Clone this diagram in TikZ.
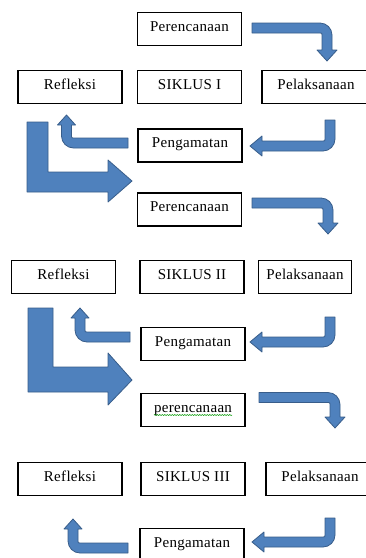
\documentclass[tikz,border=0pt]{standalone}
\usepackage{fontspec}
\setmainfont{Liberation Serif}[LetterSpace=2]
\usetikzlibrary{decorations.pathmorphing}
\definecolor{arrfill}{HTML}{4F81BD}
\definecolor{arrline}{HTML}{385D8A}
\tikzset{
  blk/.style={fill=arrfill, draw=arrline, line width=0.8pt, line join=round},
  box/.style={draw=black, fill=white, line width=1.8pt, rectangle, inner sep=0pt,
    minimum width=104pt, minimum height=33pt, text height=10pt, text depth=6pt,
    font=\fontsize{15}{18}\selectfont}
}
% right then down
\newcommand\arrRD[4]{%
\filldraw[blk] (#1,{#2-5}) -- ({#3-7},{#2-5}) .. controls ({#3-0.4},{#2-5}) and ({#3+5},{#2+0.4}) .. ({#3+5},{#2+7})
 -- ({#3+5},{#4-11}) -- ({#3+10},{#4-11}) -- (#3,#4) -- ({#3-10},{#4-11}) -- ({#3-5},{#4-11})
 -- ({#3-5},{#2+7}) .. controls ({#3-5},{#2+5}) .. ({#3-7},{#2+5}) -- (#1,{#2+5}) -- cycle;}
% down then left
\newcommand\arrDL[4]{%
\filldraw[blk] ({#1-5},#2) -- ({#1+5},#2) -- ({#1+5},{#3-7}) .. controls ({#1+5},{#3-0.4}) and ({#1-0.4},{#3+5}) .. ({#1-7},{#3+5})
 -- ({#4+12},{#3+5}) -- ({#4+12},{#3+10}) -- (#4,#3) -- ({#4+12},{#3-10}) -- ({#4+12},{#3-5})
 -- ({#1-7},{#3-5}) .. controls ({#1-5},{#3-5}) .. ({#1-5},{#3-7}) -- cycle;}
% left then up
\newcommand\arrLU[4]{%
\filldraw[blk] (#1,{#2-5}) -- ({#3+7},{#2-5}) .. controls ({#3+5},{#2-5}) .. ({#3+5},{#2-7})
 -- ({#3+5},{#4+10}) -- ({#3+9},{#4+10}) -- (#3,#4) -- ({#3-9},{#4+10}) -- ({#3-5},{#4+10})
 -- ({#3-5},{#2-7}) .. controls ({#3-5},{#2-0.4}) and ({#3+0.4},{#2+5}) .. ({#3+7},{#2+5}) -- (#1,{#2+5}) -- cycle;}
\begin{document}
\begin{tikzpicture}[x=1pt,y=-1pt]
\useasboundingbox (0,0) rectangle (366,558);
\clip (0,0) rectangle (366,558);
\fill[white] (0,0) rectangle (366,558);

% big L arrows
\filldraw[blk] (27,122) -- (48,122) -- (48,172) -- (108,172) -- (108,160) -- (132,181) -- (108,202) -- (108,192) -- (27,192) -- cycle;
\filldraw[blk] (28,308) -- (53,308) -- (53,367) -- (108,367) -- (108,353) -- (132,380) -- (108,405) -- (108,392) -- (28,392) -- cycle;

% cycle 1 arrows
\arrRD{252}{28}{327}{61}
\arrDL{330}{120}{146}{250}
\arrLU{128}{143}{66.5}{115}
% cycle 2 arrows
\arrRD{252}{203}{328}{234}
\arrDL{330}{317}{342}{250}
\arrLU{130}{337}{80}{308}
% cycle 3 arrows
\arrRD{259}{397.5}{335}{428}
\arrDL{330}{518}{542}{252}
\arrLU{128}{548}{73}{519}

% cycle 1 boxes
\node[box] (p1) at (189.5,29) {Perencanaan};
\node[box] (r1) at (70,87) {Refleksi};
\node[box] (s1) at (189.5,87) {SIKLUS I};
\node[box, minimum width=108pt] (l1) at (316,87) {Pelaksanaan};
\node[box] (g1) at (190,145.5) {Pengamatan};
% cycle 2 boxes
\node[box] (p2) at (189.5,209.5) {Perencanaan};
\node[box] (r2) at (63.5,277) {Refleksi};
\node[box] (s2) at (192,277) {SIKLUS II};
\node[box, minimum width=93pt] (l2) at (305,277) {Pelaksanaan};
\node[box] (g2) at (193,344) {Pengamatan};
% cycle 3 boxes
\node[box] (p3) at (193,410) {perencanaan};
\node[box] (r3) at (70,479) {Refleksi};
\node[box] (s3) at (193,479) {SIKLUS III};
\node[box, minimum width=108pt] (l3) at (320,479) {Pelaksanaan};
\node[box] (g3) at (192,545) {Pengamatan};

\draw[green!60!black, line width=0.5pt, decorate, decoration={snake, amplitude=0.6pt, segment length=2.5pt}]
  ([xshift=-39pt,yshift=-5pt]p3.center) -- ([xshift=39pt,yshift=-5pt]p3.center);
\end{tikzpicture}
\end{document}
